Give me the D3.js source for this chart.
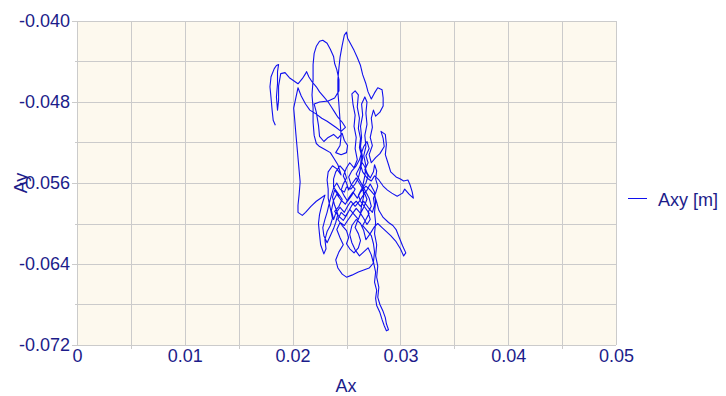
<!DOCTYPE html>
<html>
<head>
<meta charset="utf-8">
<script src="https://cdn.jsdelivr.net/npm/d3@7"></script>
<style>
  html, body { margin: 0; padding: 0; background: #ffffff; }
  svg { display: block; }
  text { font-family: "Liberation Sans", Arial, sans-serif; }
</style>
</head>
<body>
<svg id="chart" width="726" height="396"></svg>
<script>
// Trajectory of the point, Ax / Ay in metres
const ax = [
  0.0184,0.0182,0.0181,0.0180,0.0179,0.0180,0.0183,0.0185,0.0187,0.0186,
  0.0186,0.0185,0.0186,0.0187,0.0187,0.0189,0.0193,0.0197,0.0201,0.0205,
  0.0209,0.0212,0.0213,0.0215,0.0218,0.0222,0.0225,0.0229,0.0233,0.0236,
  0.0239,0.0242,0.0246,0.0249,0.0245,0.0240,0.0236,0.0232,0.0227,0.0222,
  0.0216,0.0212,0.0208,0.0205,0.0203,0.0201,0.0202,0.0203,0.0204,0.0205,
  0.0206,0.0207,0.0206,0.0205,0.0205,0.0209,0.0212,0.0217,0.0222,0.0226,
  0.0230,0.0227,0.0225,0.0224,0.0225,0.0226,0.0229,0.0231,0.0230,0.0232,
  0.0235,0.0237,0.0235,0.0233,0.0233,0.0232,0.0233,0.0237,0.0241,0.0245,
  0.0242,0.0238,0.0235,0.0230,0.0225,0.0222,0.0220,0.0219,0.0219,0.0218,
  0.0219,0.0219,0.0220,0.0222,0.0225,0.0228,0.0232,0.0235,0.0238,0.0239,
  0.0241,0.0243,0.0243,0.0239,0.0233,0.0225,0.0220,0.0222,0.0224,0.0225,
  0.0229,0.0233,0.0238,0.0242,0.0246,0.0248,0.0251,0.0250,0.0245,0.0240,
  0.0244,0.0245,0.0244,0.0243,0.0242,0.0242,0.0243,0.0244,0.0246,0.0248,
  0.0250,0.0251,0.0254,0.0257,0.0260,0.0263,0.0265,0.0268,0.0270,0.0273,
  0.0276,0.0279,0.0283,0.0284,0.0284,0.0281,0.0277,0.0275,0.0273,0.0274,
  0.0272,0.0274,0.0271,0.0273,0.0277,0.0281,0.0285,0.0284,0.0282,0.0286,
  0.0287,0.0286,0.0289,0.0291,0.0296,0.0300,0.0303,0.0307,0.0309,0.0311,
  0.0312,0.0308,0.0304,0.0302,0.0297,0.0292,0.0288,0.0284,0.0280,0.0276,
  0.0273,0.0269,0.0265,0.0263,0.0264,0.0262,0.0263,0.0261,0.0262,0.0260,
  0.0261,0.0258,0.0255,0.0256,0.0258,0.0257,0.0259,0.0258,0.0260,0.0257,
  0.0253,0.0250,0.0247,0.0250,0.0252,0.0255,0.0259,0.0263,0.0266,0.0269,
  0.0266,0.0263,0.0259,0.0255,0.0251,0.0248,0.0244,0.0241,0.0244,0.0247,
  0.0243,0.0240,0.0242,0.0246,0.0250,0.0255,0.0261,0.0266,0.0271,0.0275,
  0.0273,0.0270,0.0266,0.0262,0.0258,0.0255,0.0253,0.0255,0.0259,0.0263,
  0.0266,0.0268,0.0272,0.0276,0.0279,0.0283,0.0287,0.0291,0.0296,0.0300,
  0.0303,0.0305,0.0302,0.0299,0.0296,0.0293,0.0289,0.0284,0.0280,0.0278,
  0.0276,0.0272,0.0268,0.0263,0.0260,0.0256,0.0252,0.0249,0.0245,0.0241,
  0.0238,0.0236,0.0238,0.0240,0.0244,0.0248,0.0251,0.0254,0.0258,0.0262,
  0.0265,0.0269,0.0272,0.0276,0.0277,0.0276,0.0277,0.0276,0.0278,0.0277,
  0.0279,0.0278,0.0280,0.0279,0.0281,0.0284,0.0286,0.0287,0.0289,0.0287,
  0.0285,0.0283,0.0281,0.0278,0.0277,0.0278,0.0276,0.0277,0.0275,0.0276,
  0.0275,0.0273,0.0269,0.0265,0.0268,0.0271,0.0267,0.0263,0.0261,0.0264,
  0.0268,0.0270,0.0267,0.0270,0.0268,0.0271,0.0269,0.0266,0.0264,0.0262,
  0.0259,0.0255,0.0252,0.0254,0.0258,0.0255,0.0251,0.0248,0.0245,0.0247,
  0.0250,0.0248,0.0244,0.0240,0.0238,0.0238,0.0242,0.0246,0.0243,0.0239,
  0.0243,0.0247,0.0250,0.0253,0.0257,0.0261,0.0263,0.0266,0.0269,0.0272,
  0.0270,0.0273,0.0271,0.0268,0.0265,0.0262,0.0259,0.0262,0.0264,0.0267,
  0.0269,0.0272,0.0275,0.0276,0.0278,0.0277,0.0279,0.0277,0.0275,0.0276,
  0.0274,0.0270,0.0266,0.0263,0.0259,0.0255,0.0252,0.0249,0.0245,0.0242,
  0.0246,0.0250,0.0252,0.0250,0.0253,0.0257,0.0261,0.0263,0.0261,0.0258,
  0.0260,0.0263,0.0264,0.0266,0.0265,0.0267,0.0268,0.0266,0.0268,0.0267,
  0.0269,0.0268,0.0269,0.0267,0.0264,0.0265,0.0263,0.0264,0.0263,0.0265,
  0.0263,0.0261,0.0258,0.0254,0.0250,0.0248,0.0244,0.0241,0.0238,0.0236,
  0.0234,0.0232,0.0230,0.0228,0.0229,0.0232,0.0235,0.0238,0.0240,0.0242,
  0.0239,0.0237,0.0239,0.0243
];
const ay = [
  -0.0503,-0.0498,-0.0488,-0.0476,-0.0465,-0.0455,-0.0447,-0.0444,-0.0443,-0.0450,
  -0.0462,-0.0475,-0.0488,-0.0478,-0.0464,-0.0452,-0.0451,-0.0456,-0.0459,-0.0462,
  -0.0457,-0.0452,-0.0450,-0.0455,-0.0460,-0.0465,-0.0470,-0.0475,-0.0480,-0.0485,
  -0.0490,-0.0495,-0.0500,-0.0505,-0.0509,-0.0505,-0.0502,-0.0499,-0.0496,-0.0492,
  -0.0488,-0.0482,-0.0474,-0.0466,-0.0476,-0.0486,-0.0498,-0.0511,-0.0523,-0.0535,
  -0.0547,-0.0559,-0.0572,-0.0582,-0.0589,-0.0592,-0.0589,-0.0583,-0.0578,-0.0575,
  -0.0572,-0.0582,-0.0591,-0.0600,-0.0611,-0.0621,-0.0630,-0.0625,-0.0616,-0.0608,
  -0.0602,-0.0595,-0.0585,-0.0575,-0.0566,-0.0557,-0.0549,-0.0543,-0.0546,-0.0552,
  -0.0542,-0.0535,-0.0530,-0.0527,-0.0524,-0.0521,-0.0513,-0.0500,-0.0486,-0.0473,
  -0.0458,-0.0443,-0.0432,-0.0425,-0.0420,-0.0419,-0.0422,-0.0428,-0.0435,-0.0442,
  -0.0448,-0.0458,-0.0469,-0.0476,-0.0479,-0.0480,-0.0482,-0.0490,-0.0503,-0.0514,
  -0.0519,-0.0515,-0.0512,-0.0516,-0.0511,-0.0518,-0.0523,-0.0530,-0.0532,-0.0530,
  -0.0523,-0.0513,-0.0498,-0.0483,-0.0470,-0.0458,-0.0446,-0.0436,-0.0424,-0.0414,
  -0.0411,-0.0417,-0.0423,-0.0429,-0.0436,-0.0444,-0.0453,-0.0462,-0.0470,-0.0477,
  -0.0471,-0.0466,-0.0468,-0.0476,-0.0484,-0.0490,-0.0494,-0.0488,-0.0496,-0.0505,
  -0.0515,-0.0523,-0.0532,-0.0540,-0.0535,-0.0531,-0.0524,-0.0516,-0.0509,-0.0512,
  -0.0522,-0.0532,-0.0542,-0.0549,-0.0554,-0.0556,-0.0558,-0.0557,-0.0562,-0.0569,
  -0.0575,-0.0571,-0.0566,-0.0570,-0.0573,-0.0570,-0.0567,-0.0563,-0.0557,-0.0553,
  -0.0558,-0.0555,-0.0549,-0.0542,-0.0533,-0.0525,-0.0516,-0.0506,-0.0496,-0.0485,
  -0.0473,-0.0469,-0.0472,-0.0482,-0.0493,-0.0504,-0.0515,-0.0526,-0.0537,-0.0545,
  -0.0540,-0.0545,-0.0553,-0.0560,-0.0567,-0.0561,-0.0555,-0.0562,-0.0568,-0.0576,
  -0.0584,-0.0590,-0.0585,-0.0591,-0.0597,-0.0602,-0.0599,-0.0606,-0.0614,-0.0621,
  -0.0628,-0.0636,-0.0644,-0.0650,-0.0653,-0.0651,-0.0648,-0.0646,-0.0644,-0.0639,
  -0.0631,-0.0624,-0.0628,-0.0632,-0.0626,-0.0619,-0.0611,-0.0602,-0.0596,-0.0600,
  -0.0607,-0.0616,-0.0610,-0.0603,-0.0600,-0.0604,-0.0608,-0.0612,-0.0618,-0.0625,
  -0.0632,-0.0629,-0.0622,-0.0614,-0.0606,-0.0602,-0.0599,-0.0594,-0.0587,-0.0579,
  -0.0572,-0.0567,-0.0563,-0.0569,-0.0575,-0.0569,-0.0575,-0.0581,-0.0577,-0.0571,
  -0.0577,-0.0587,-0.0596,-0.0590,-0.0584,-0.0589,-0.0583,-0.0578,-0.0583,-0.0578,
  -0.0573,-0.0567,-0.0561,-0.0569,-0.0579,-0.0589,-0.0599,-0.0610,-0.0621,-0.0632,
  -0.0642,-0.0653,-0.0663,-0.0673,-0.0680,-0.0687,-0.0693,-0.0699,-0.0705,-0.0706,
  -0.0701,-0.0695,-0.0688,-0.0681,-0.0674,-0.0666,-0.0658,-0.0648,-0.0638,-0.0628,
  -0.0620,-0.0612,-0.0607,-0.0602,-0.0596,-0.0590,-0.0584,-0.0578,-0.0572,-0.0566,
  -0.0560,-0.0553,-0.0547,-0.0540,-0.0533,-0.0526,-0.0519,-0.0524,-0.0530,-0.0537,
  -0.0543,-0.0548,-0.0554,-0.0561,-0.0566,-0.0572,-0.0578,-0.0573,-0.0567,-0.0561,
  -0.0555,-0.0548,-0.0543,-0.0549,-0.0556,-0.0564,-0.0570,-0.0576,-0.0583,-0.0588,
  -0.0593,-0.0597,-0.0592,-0.0586,-0.0591,-0.0596,-0.0590,-0.0595,-0.0601,-0.0596,
  -0.0589,-0.0583,-0.0575,-0.0569,-0.0563,-0.0557,-0.0551,-0.0545,-0.0539,-0.0544,
  -0.0550,-0.0555,-0.0549,-0.0542,-0.0548,-0.0556,-0.0563,-0.0570,-0.0575,-0.0582,
  -0.0589,-0.0584,-0.0578,-0.0583,-0.0578,-0.0582,-0.0588,-0.0593,-0.0589,-0.0596,
  -0.0602,-0.0607,-0.0614,-0.0620,-0.0625,-0.0629,-0.0624,-0.0617,-0.0610,-0.0604,
  -0.0598,-0.0591,-0.0582,-0.0573,-0.0563,-0.0553,-0.0543,-0.0533,-0.0524,-0.0513,
  -0.0502,-0.0491,-0.0480,-0.0475,-0.0482,-0.0493,-0.0504,-0.0515,-0.0524,-0.0535,
  -0.0546,-0.0555,-0.0561,-0.0566,-0.0564,-0.0569,-0.0566,-0.0560,-0.0565,-0.0572,
  -0.0580,-0.0589,-0.0596,-0.0604,-0.0612,-0.0619,-0.0612,-0.0605,-0.0599,-0.0591,
  -0.0582,-0.0574,-0.0567,-0.0573
];

const xTickValues = [0, 0.01, 0.02, 0.03, 0.04, 0.05];
const xTickLabels = ["0", "0.01", "0.02", "0.03", "0.04", "0.05"];
const yTickValues = [-0.072, -0.064, -0.056, -0.048, -0.040];
const yTickLabels = ["-0.072", "-0.064", "-0.056", "-0.048", "-0.040"];
const xGridValues = d3.range(0, 11).map(i => i * 0.005);
const yGridValues = d3.range(0, 9).map(i => -0.072 + i * 0.004);
const seriesName = "Axy [m]";
const xTitle = "Ax";
const yTitle = "Ay";

const ink = "#1c1c8a";
const gridColor = "#cbcbcb";
const lineColor = "#1010ee";

const svg = d3.select("#chart");
const L = 77, T = 21, R = 616, B = 345;

const x = d3.scaleLinear().domain([0, 0.05]).range([L, R]);
const y = d3.scaleLinear().domain([-0.072, -0.040]).range([B, T]);

// plot background
svg.append("rect")
  .attr("x", L).attr("y", T)
  .attr("width", R - L).attr("height", B - T)
  .attr("fill", "#fdf9ee");

// grid lines
const grid = svg.append("g").attr("shape-rendering", "crispEdges");
grid.selectAll("line.vx").data(xGridValues).join("line")
  .attr("x1", d => Math.round(x(d)) + 0.5).attr("x2", d => Math.round(x(d)) + 0.5)
  .attr("y1", T).attr("y2", B)
  .attr("stroke", gridColor);
grid.selectAll("line.hy").data(yGridValues).join("line")
  .attr("x1", L).attr("x2", R)
  .attr("y1", d => Math.round(y(d)) + 0.5).attr("y2", d => Math.round(y(d)) + 0.5)
  .attr("stroke", gridColor);

// small outside ticks: minor ticks below the x axis, ticks left of the y axis
grid.selectAll("line.xt").data(xGridValues.filter((d, i) => i % 2 === 1)).join("line")
  .attr("x1", d => Math.round(x(d)) + 0.5).attr("x2", d => Math.round(x(d)) + 0.5)
  .attr("y1", B).attr("y2", B + 4)
  .attr("stroke", gridColor);
grid.selectAll("line.yt").data(yGridValues).join("line")
  .attr("x1", (d, i) => i % 2 === 0 ? L - 5 : L - 2).attr("x2", L)
  .attr("y1", d => Math.round(y(d)) + 0.5).attr("y2", d => Math.round(y(d)) + 0.5)
  .attr("stroke", gridColor);

// axis labels
const xAxis = d3.axisBottom(x).tickValues(xTickValues)
  .tickFormat((d, i) => xTickLabels[i]).tickSize(0).tickPadding(4);
const gx = svg.append("g").attr("transform", `translate(0,${B})`).call(xAxis);
gx.select(".domain").remove();
gx.selectAll("text").attr("fill", ink).attr("font-size", 18)
  .attr("font-family", "'Liberation Sans', Arial, sans-serif");

const yAxis = d3.axisLeft(y).tickValues(yTickValues)
  .tickFormat((d, i) => yTickLabels[i]).tickSize(0).tickPadding(7);
const gy = svg.append("g").attr("transform", `translate(${L},0)`).call(yAxis);
gy.select(".domain").remove();
gy.selectAll("text").attr("fill", ink).attr("font-size", 18)
  .attr("font-family", "'Liberation Sans', Arial, sans-serif");

// trajectory
const pts = ax.map((v, i) => [v, ay[i]]);
svg.append("path")
  .datum(pts)
  .attr("fill", "none")
  .attr("stroke", lineColor)
  .attr("stroke-width", 1.1)
  .attr("stroke-linejoin", "round")
  .attr("d", d3.line().x(d => x(d[0])).y(d => y(d[1])));

// axis titles
svg.append("text").attr("x", (L + R) / 2 - 0.5).attr("y", 392)
  .attr("text-anchor", "middle").attr("fill", ink).attr("font-size", 18)
  .text(xTitle);
svg.append("text").attr("transform", `translate(27,${(T + B) / 2}) rotate(-90)`)
  .attr("text-anchor", "middle").attr("fill", ink).attr("font-size", 18)
  .text(yTitle);

// legend
svg.append("line").attr("x1", 628).attr("x2", 647).attr("y1", 198.5).attr("y2", 198.5)
  .attr("stroke", lineColor).attr("stroke-width", 1);
svg.append("text").attr("x", 658).attr("y", 206)
  .attr("fill", ink).attr("font-size", 18).text(seriesName);
</script>
</body>
</html>
